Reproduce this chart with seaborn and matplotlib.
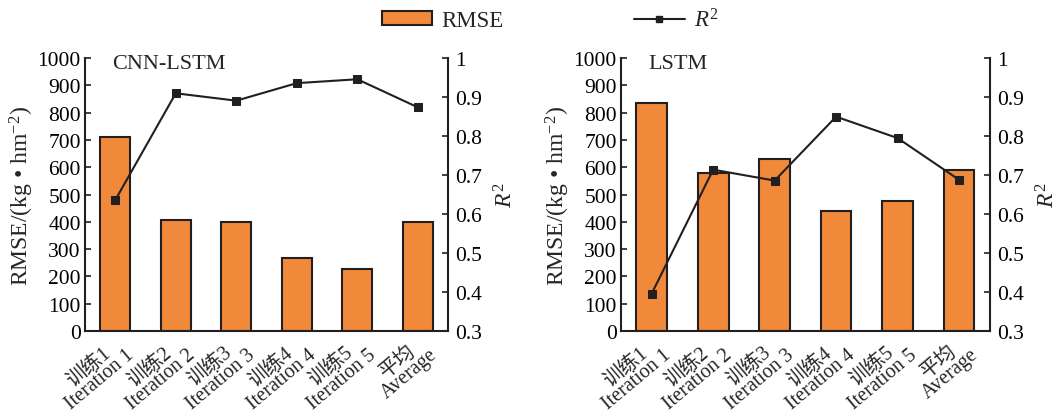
import matplotlib
matplotlib.use("Agg")
import matplotlib.pyplot as plt
import matplotlib.transforms as mtransforms
import seaborn as sns
import numpy as np
from matplotlib.patches import Patch
from matplotlib.lines import Line2D

categories = ["训练1\nIteration 1", "训练2\nIteration 2", "训练3\nIteration 3",
              "训练4\nIteration 4", "训练5\nIteration 5", "平均\nAverage"]
cnn_lstm_rmse = [710, 407, 401, 268, 226, 401]
cnn_lstm_r2 = [0.636, 0.910, 0.891, 0.936, 0.946, 0.874]
lstm_rmse = [834, 578, 630, 441, 476, 590]
lstm_r2 = [0.396, 0.714, 0.686, 0.850, 0.795, 0.688]
panel_titles = ["CNN-LSTM", "LSTM"]

sns.set_theme(style="white")
plt.rcParams['font.family'] = ['Liberation Serif', 'Noto Sans CJK SC', 'DejaVu Sans']
plt.rcParams['mathtext.fontset'] = 'custom'
plt.rcParams['mathtext.rm'] = 'Liberation Serif'
plt.rcParams['mathtext.it'] = 'Liberation Serif:italic'
plt.rcParams['axes.unicode_minus'] = False

FS_TICK = 15.5
FS_LABEL = 17
FS_X = 14.5
FS_TITLE = 16
BAR_COLOR = "#F08A3A"
EDGE = "#231F20"

fig = plt.figure(figsize=(10.6, 4.14), dpi=100)
positions = [[0.0802, 0.198, 0.3425, 0.659], [0.5858, 0.198, 0.348, 0.659]]
data = [(cnn_lstm_rmse, cnn_lstm_r2), (lstm_rmse, lstm_r2)]
offset = mtransforms.ScaledTranslation(0.13, 0.06, fig.dpi_scale_trans)

for pos, (rmse, r2), title in zip(positions, data, panel_titles):
    ax = fig.add_axes(pos)
    sns.barplot(x=categories, y=rmse, color=BAR_COLOR, edgecolor=EDGE,
                linewidth=1.5, width=0.5, saturation=1, ax=ax)
    ax.set_xlim(-0.5, len(categories) - 0.5)
    ax.set_ylim(0, 1000)
    ax.set_yticks(np.arange(0, 1001, 100))
    ax.set_yticklabels([str(v) for v in range(0, 1001, 100)], fontsize=FS_TICK)
    ax.set_ylabel("RMSE/(kg • hm$^{-2}$)", fontsize=FS_LABEL, labelpad=1)
    ax.set_xticks(range(len(categories)))
    ax.set_xticklabels(categories, rotation=40, ha='right', va='top',
                       rotation_mode='anchor', fontsize=FS_X, linespacing=0.8,
                       multialignment='center')
    for lab in ax.get_xticklabels():
        lab.set_transform(lab.get_transform() + offset)
    ax.tick_params(axis='x', length=0, pad=1)
    ax.tick_params(axis='y', direction='in', length=4, width=1.2, pad=3, colors=EDGE, labelcolor='black')
    for s in ['left', 'bottom']:
        ax.spines[s].set_linewidth(1.5)
        ax.spines[s].set_color(EDGE)
    ax.spines['top'].set_visible(False)
    ax.spines['right'].set_visible(False)
    ax.text(0.075, 0.982, title, transform=ax.transAxes, fontsize=FS_TITLE,
            va='center', ha='left')

    ax2 = ax.twinx()
    sns.lineplot(x=np.arange(len(categories)), y=r2, color=EDGE, marker='s',
                 markersize=6, markeredgecolor=EDGE, linewidth=1.5, ax=ax2)
    ax2.set_ylim(0.3, 1.0)
    r2_ticks = [0.3, 0.4, 0.5, 0.6, 0.7, 0.8, 0.9, 1.0]
    ax2.set_yticks(r2_ticks)
    ax2.set_yticklabels(["0.3", "0.4", "0.5", "0.6", "0.7", "0.8", "0.9", "1"], fontsize=FS_TICK)
    ax2.set_ylabel("$R^2$", fontsize=FS_LABEL, labelpad=9)
    ax2.tick_params(axis='y', direction='in', length=4, width=1.2, pad=5, colors=EDGE, labelcolor='black')
    ax2.spines['right'].set_linewidth(1.5)
    ax2.spines['right'].set_color(EDGE)
    for s in ['top', 'left', 'bottom']:
        ax2.spines[s].set_visible(False)
    ax2.set_xlim(-0.5, len(categories) - 0.5)

handles = [Patch(facecolor=BAR_COLOR, edgecolor=EDGE, linewidth=1.5),
           Line2D([], [], color=EDGE, marker='s', markersize=5, linewidth=1.5)]
fig.legend(handles, ["RMSE", "$R^2$"], loc='center', bbox_to_anchor=(0.519, 0.95),
           ncol=2, frameon=False, fontsize=16.5, handlelength=2.2, handleheight=0.6,
           columnspacing=5.7, handletextpad=0.4)

fig.savefig("out.png", dpi=100)
